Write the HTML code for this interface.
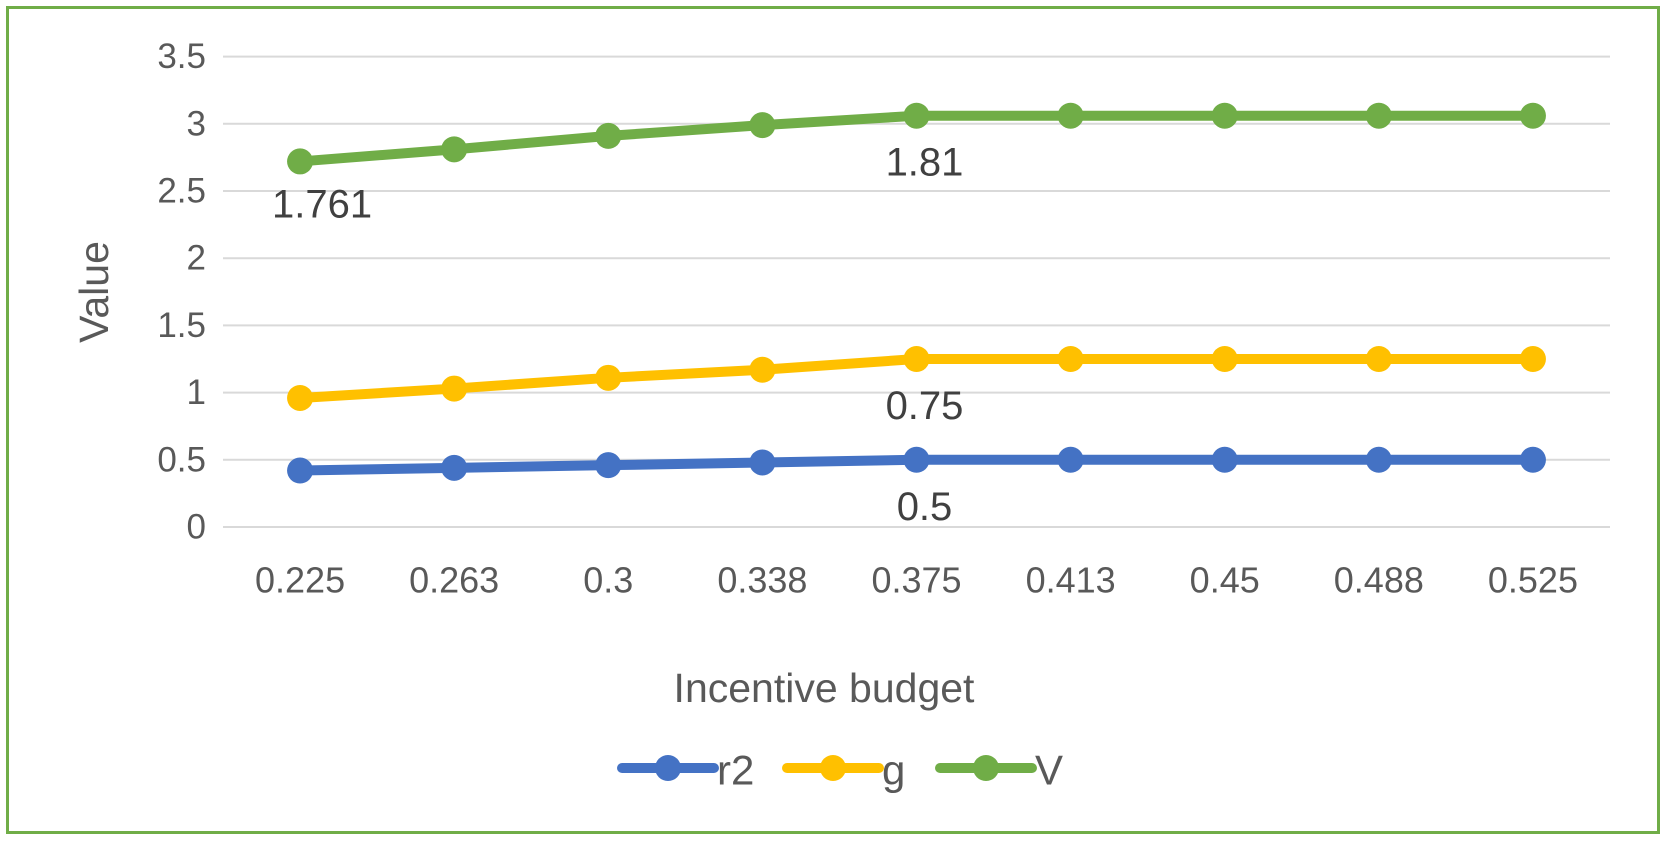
<!DOCTYPE html>
<html><head><meta charset="utf-8"><style>
html,body{margin:0;padding:0;background:#fff;}
svg{display:block;font-family:"Liberation Sans",sans-serif;}
</style></head><body>
<svg id="chart" width="1667" height="841" viewBox="0 0 1667 841">
<rect x="7.5" y="7.5" width="1651" height="825" fill="#fff" stroke="#70AD47" stroke-width="3"/>
<g id="grid"></g><g id="series"></g><g id="labels"></g>
<text x="94" y="292" transform="rotate(-90 94 292)" text-anchor="middle" dominant-baseline="central" font-size="41" fill="#595959">Value</text>
<text x="824" y="702" text-anchor="middle" font-size="41" fill="#595959">Incentive budget</text>
<g id="legend"></g>
</svg>
<script>
const categories=["0.225","0.263","0.3","0.338","0.375","0.413","0.45","0.488","0.525"];
const r2=[0.42,0.44,0.46,0.48,0.5,0.5,0.5,0.5,0.5];
const g=[0.96,1.03,1.11,1.17,1.25,1.25,1.25,1.25,1.25];
const V=[2.72,2.81,2.91,2.99,3.06,3.06,3.06,3.06,3.06];
const yTicks=[0,0.5,1,1.5,2,2.5,3,3.5];
const dataLabels=[{s:"V",i:0,t:"1.761"},{s:"V",i:4,t:"1.81"},{s:"g",i:4,t:"0.75"},{s:"r2",i:4,t:"0.5"}];
const NS="http://www.w3.org/2000/svg";
const L=223,R=1610,Y0=527,PER=134.4;
const band=(R-L)/categories.length;
const xs=i=>L+band*(i+0.5);
const ys=v=>Y0-v*PER;
function mk(tag,attrs,parent,text){const e=document.createElementNS(NS,tag);for(const k in attrs)e.setAttribute(k,attrs[k]);if(text!==undefined)e.textContent=text;parent.appendChild(e);return e;}
const grid=document.getElementById('grid');
yTicks.forEach(t=>{
 const ln=mk('line',{x1:L,x2:R,y1:ys(t),y2:ys(t),stroke:'#d9d9d9','stroke-width':2},grid);
 
 
 const tx=mk('text',{x:206,y:ys(t),'text-anchor':'end','dominant-baseline':'central','font-size':35,fill:'#595959'},grid,String(t));
 
 
});
categories.forEach((c,i)=>{
 const tx=mk('text',{x:xs(i),y:580,'text-anchor':'middle','dominant-baseline':'central','font-size':36,fill:'#595959'},grid,c);
 
 
});
const seriesDefs=[{n:"r2",d:r2,c:"#4472C4"},{n:"g",d:g,c:"#FFC000"},{n:"V",d:V,c:"#70AD47"}];
const sg=document.getElementById('series');
seriesDefs.forEach(s=>{
 const pl=mk('polyline',{points:s.d.map((v,i)=>xs(i)+','+ys(v)).join(' '),fill:'none',stroke:s.c,'stroke-width':10,'stroke-linejoin':'round','stroke-linecap':'round'},sg);
 
 
 s.d.forEach((v,i)=>{
  const c=mk('circle',{cx:xs(i),cy:ys(v),r:13,fill:s.c},sg);
  
  
 });
});
const lg=document.getElementById('labels');
const sd={r2:r2,g:g,V:V};
dataLabels.forEach(d=>{
 const tx=mk('text',{x:xs(d.i)+8+(d.i===0?14:0),y:ys(sd[d.s][d.i])+(d.i===0?43:47),'text-anchor':'middle','dominant-baseline':'central','font-size':40,fill:'#404040'},lg,d.t);
 
 
});
const leg=document.getElementById('legend');
const legX=[622,787,940];
seriesDefs.forEach((s,k)=>{
 const x=legX[k];
 const ln=mk('line',{x1:x,x2:x+92,y1:768,y2:768,stroke:s.c,'stroke-width':10,'stroke-linecap':'round'},leg);
 
 
 const c=mk('circle',{cx:x+46,cy:768,r:13,fill:s.c},leg);
 
 
 const t=mk('text',{x:x+95,y:770,'dominant-baseline':'central','font-size':42,fill:'#595959'},leg,s.n);
 
 
});
</script>
</body></html>
